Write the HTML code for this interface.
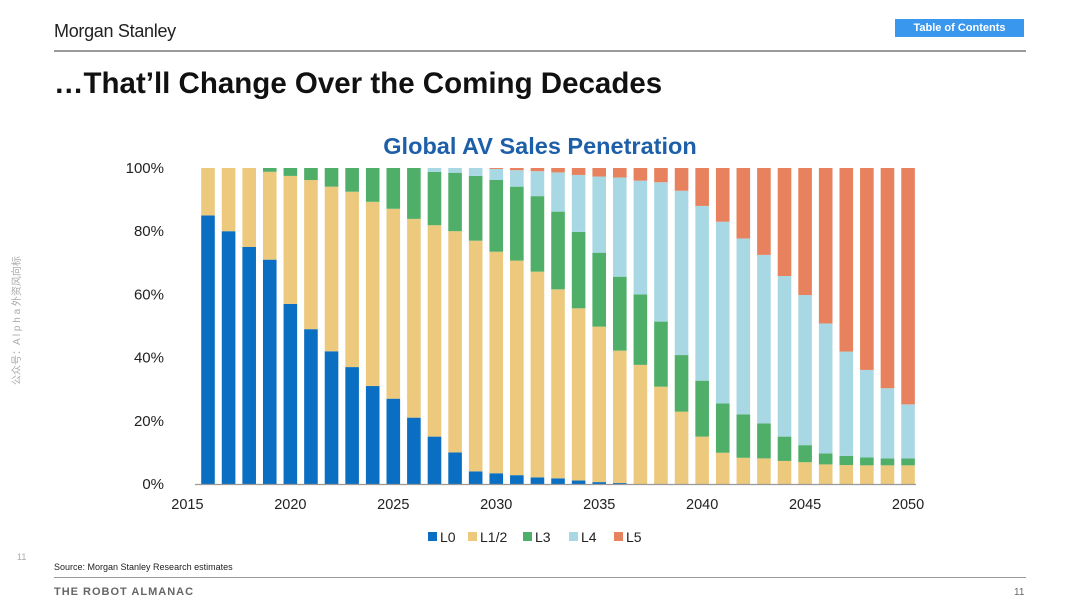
<!DOCTYPE html>
<html><head><meta charset="utf-8">
<style>
body{margin:0;width:1080px;height:608px;background:#fff;position:relative;overflow:hidden;font-family:"Liberation Sans","Noto Sans CJK SC",sans-serif;}
.abs{position:absolute;}
</style></head><body>
<div class="abs" style="left:54px;top:21px;font-size:18px;color:#222;letter-spacing:-0.3px;">Morgan Stanley</div>
<div class="abs" style="left:895px;top:19px;width:129px;height:18px;background:#3a97ee;color:#fff;font-size:11px;font-weight:bold;text-align:center;line-height:18px;">Table of Contents</div>
<div class="abs" style="left:54px;top:50px;width:972px;height:2px;background:#9a9a9a;"></div>
<div class="abs" style="left:54px;top:67px;font-size:29.5px;font-weight:bold;color:#111;">…That’ll Change Over the Coming Decades</div>
<div class="abs" style="left:8px;top:385px;transform:rotate(-90deg);transform-origin:0 0;font-size:10px;color:#aaa;white-space:nowrap;">公众号：A l p h a 外资风向标</div>
<div class="abs" style="left:17px;top:552px;font-size:9px;color:#aaa;">11</div>
<div class="abs" style="left:54px;top:562px;font-size:9px;color:#222;">Source: Morgan Stanley Research estimates</div>
<div class="abs" style="left:54px;top:577px;width:972px;height:1px;background:#9a9a9a;"></div>
<div class="abs" style="left:54px;top:586px;font-size:11px;font-weight:bold;color:#666;letter-spacing:1px;">THE ROBOT ALMANAC</div>
<div class="abs" style="left:1014px;top:587px;font-size:10px;color:#666;">11</div>
<svg id="chart" class="abs" style="left:0;top:0" width="1080" height="608"></svg>
<script>
const years=[];for(let y=2016;y<=2050;y++)years.push(y);
const L0=[85,80,75,71,57,49,42,37,31,27,21,15,10,4,3.4,2.8,2.1,1.8,1.1,0.6,0.3,0,0,0,0,0,0,0,0,0,0,0,0,0,0];
const L12=[15,20,25,27.8,40.5,47.2,52.1,55.5,58.3,60.1,62.9,66.9,70,73,70.1,67.9,65.1,59.8,54.5,49.2,41.9,37.7,30.8,22.9,15,9.9,8.3,8.1,7.3,6.9,6.2,6,5.9,5.9,5.9];
const L3=[0,0,0,1.2,2.5,3.8,5.9,7.5,10.7,12.9,16.1,16.9,18.5,20.5,22.7,23.4,23.9,24.6,24.2,23.4,23.4,22.3,20.6,17.9,17.7,15.6,13.7,11.1,7.7,5.4,3.5,2.9,2.5,2.2,2.2];
const L4=[0,0,0,0,0,0,0,0,0,0,0,1.2,1.5,2.5,3.5,5.2,7.9,12.4,18,24.1,31.4,36,44.1,52,55.3,57.5,55.7,53.3,50.8,47.5,41.1,33,27.7,22.2,17.1];
const L5=[0,0,0,0,0,0,0,0,0,0,0,0,0,0,0.3,0.7,1,1.4,2.2,2.7,3,4,4.5,7.2,12,17,22.3,27.5,34.2,40.2,49.2,58.1,63.9,69.7,74.8];
const seriesNames=["L0","L1/2","L3","L4","L5"];
const xTicks=[2015,2020,2025,2030,2035,2040,2045,2050];
const yTicks=[0,20,40,60,80,100];
const colors=["#0a6fc2","#edc97d","#4fae68","#a8d8e4","#e8825e"];
const series=[L0,L12,L3,L4,L5];
const svg=document.getElementById('chart');const NS="http://www.w3.org/2000/svg";
const X=y=>187.4+(y-2015)*20.59;const Y=v=>484-v*3.16;
function mk(t,a,p){const e=document.createElementNS(NS,t);for(const k in a)e.setAttribute(k,a[k]);(p||svg).appendChild(e);return e;}
const title=mk('text',{x:540,y:154,'text-anchor':'middle','font-size':23.5,'font-weight':'bold',fill:'#1d5fa8'});


title.textContent="Global AV Sales Penetration";
years.forEach((yr,i)=>{let base=0;series.forEach((s,k)=>{const v=s[i];if(v>0){const r=mk('rect',{x:X(yr)-6.8,y:Y(base+v),width:13.6,height:v*3.16,fill:colors[k]});

}base+=v;});});
const ax=mk('line',{x1:195,x2:916,y1:484.5,y2:484.5,stroke:'#999','stroke-width':1.2});


yTicks.forEach(v=>{const t=mk('text',{x:164,y:Y(v)+5,'text-anchor':'end','font-size':15,fill:'#222'});


t.textContent=v+'%';});
xTicks.forEach(v=>{const t=mk('text',{x:X(v),y:509,'text-anchor':'middle','font-size':14.5,fill:'#222'});


t.textContent=v;});
const lx=[428,468,523,569,614];
seriesNames.forEach((n,k)=>{const g=mk('g',{});


mk('rect',{x:lx[k],y:532,width:9,height:9,fill:colors[k]},g);
const t=mk('text',{x:lx[k]+12,y:542,'font-size':14,fill:'#222'},g);t.textContent=n;});
</script>
</body></html>
